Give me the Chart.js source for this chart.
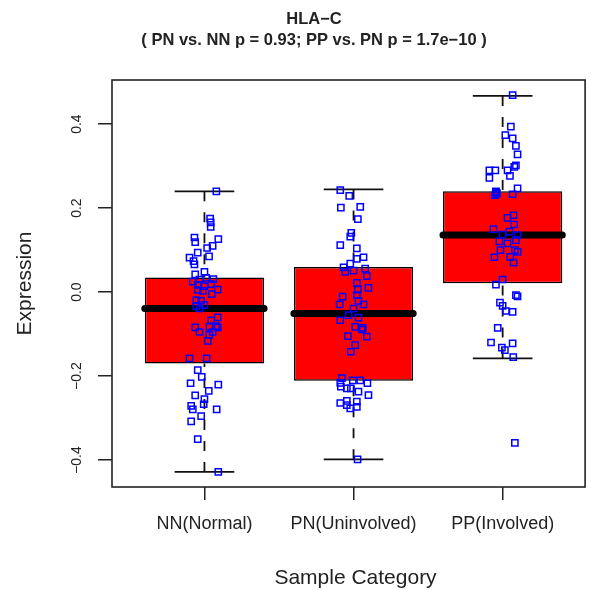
<!DOCTYPE html>
<html><head><meta charset="utf-8">
<script src="https://cdn.jsdelivr.net/npm/chart.js@4.4.1/dist/chart.umd.min.js"></script>
<style>html,body{margin:0;padding:0;background:#fff;}#wrap{width:591px;height:590px;position:relative;}</style>
</head><body><div id="wrap"><canvas id="c" width="591" height="590"></canvas></div>
<script>
const categories = ['NN(Normal)', 'PN(Uninvolved)', 'PP(Involved)'];
const titleLines = ['HLA\u2212C', '( PN vs. NN p = 0.93; PP vs. PN p = 1.7e\u221210 )'];
const xAxisTitle = 'Sample Category';
const yAxisTitle = 'Expression';
const yTickValues = [-0.4, -0.2, 0.0, 0.2, 0.4];
const yTickLabels = ['\u22120.4', '\u22120.2', '0.0', '0.2', '0.4'];

const whiskerLow  = [-0.428, -0.398, -0.158];
const q1          = [-0.170, -0.211, 0.021];
const median      = [-0.039, -0.051, 0.136];
const q3          = [0.035, 0.060, 0.240];
const whiskerHigh = [0.240, 0.2445, 0.467];

const nnValues = [0.240,0.175,0.166,0.155,0.130,0.119,0.126,0.110,0.105,0.094,
  0.085,0.082,0.074,0.066,0.042,0.048,0.025,0.030,0.034,0.031,
  0.017,0.014,0.019,0.006,0.005,0.003,-0.005,-0.019,-0.021,-0.031,
  -0.033,-0.039,-0.060,-0.067,-0.081,-0.083,-0.084,-0.095,-0.084,-0.102,
  -0.116,-0.095,-0.158,-0.158,-0.186,-0.202,-0.217,-0.220,-0.235,-0.246,
  -0.255,-0.267,-0.271,-0.279,-0.279,-0.295,-0.308,-0.350,-0.428];
const nnJitter = [0.08,0.038,0.042,0.042,-0.067,-0.062,0.093,0.055,0.018,-0.045,
  0.031,-0.10,-0.073,-0.067,-0.062,0.0,-0.078,-0.033,0.011,0.06,
  -0.045,0.0,0.045,0.089,-0.045,-0.011,0.049,-0.055,-0.022,0.0,
  -0.055,-0.033,0.089,0.045,0.078,0.033,-0.062,-0.033,0.089,0.033,
  0.022,0.055,-0.10,0.015,-0.045,-0.018,-0.093,0.093,0.029,-0.062,
  0.0,-0.005,-0.089,-0.078,0.082,-0.022,-0.089,-0.045,0.093];

const pnValues = [0.243,0.229,0.201,0.203,0.174,0.141,0.132,0.112,0.104,0.079,
  0.083,0.068,0.059,0.056,0.051,0.048,0.038,0.022,0.006,0.010,
  -0.011,-0.007,-0.029,-0.021,-0.029,-0.039,-0.055,-0.061,-0.067,-0.083,
  -0.085,-0.105,-0.089,-0.106,-0.126,-0.142,-0.205,-0.216,-0.210,-0.210,
  -0.217,-0.225,-0.229,-0.229,-0.237,-0.245,-0.264,-0.259,-0.261,-0.269,
  -0.273,-0.277,-0.398];
const pnJitter = [-0.089,-0.029,-0.085,0.045,0.029,-0.015,-0.022,-0.089,0.022,0.022,
  0.067,-0.022,-0.067,0.078,0.0,-0.055,0.089,0.022,0.029,0.10,
  -0.073,0.022,-0.093,0.033,0.067,0.0,-0.033,0.033,-0.089,0.011,
  0.062,-0.038,0.055,0.089,0.011,-0.018,-0.078,-0.089,-0.005,0.045,
  0.093,-0.085,-0.045,-0.018,0.033,0.10,-0.089,-0.045,0.022,-0.045,
  0.022,-0.022,0.027];

const ppValues = [0.469,0.394,0.374,0.366,0.348,0.328,0.302,0.298,0.290,0.290,
  0.272,0.290,0.277,0.247,0.240,0.231,0.236,0.233,0.183,0.177,
  0.161,0.150,0.144,0.137,0.136,0.121,0.124,0.116,0.100,0.100,
  0.096,0.083,0.084,0.070,0.030,0.018,-0.007,-0.010,-0.025,-0.033,
  -0.045,-0.047,-0.085,-0.120,-0.132,-0.138,-0.122,-0.155,-0.359,
  0.238,0.234];
const ppJitter = [0.067,0.055,0.018,0.067,0.089,0.10,0.089,0.078,-0.089,-0.049,
  -0.089,0.033,0.049,0.10,-0.045,-0.051,-0.04,0.067,0.073,0.033,
  0.078,-0.062,0.045,0.0,0.10,-0.022,0.089,0.033,-0.015,0.082,
  0.10,-0.055,0.051,0.073,0.0,-0.045,0.089,0.10,-0.018,0.0,
  0.022,0.067,-0.033,-0.078,-0.005,0.015,0.067,0.071,0.082,
  -0.045,-0.040];

const TEXT = '#222222';
const FONT = '"Liberation Sans", Arial, Helvetica, sans-serif';

const groups = [[nnValues, nnJitter], [pnValues, pnJitter], [ppValues, ppJitter]];
const pointData = [];
groups.forEach(([vals, jit], g) => vals.forEach((v, i) => pointData.push({x: g + 1 + jit[i], y: v})));

const boxData = categories.map((c, i) => ({x: i + 1, y: [q1[i], q3[i]]}));
const whiskerData = [], capData = [], medianData = [];
categories.forEach((c, i) => {
  const g = i + 1;
  whiskerData.push({x: g, y: whiskerHigh[i]}, {x: g, y: q3[i]}, {x: g, y: null});
  whiskerData.push({x: g, y: whiskerLow[i]}, {x: g, y: q1[i]}, {x: g, y: null});
  capData.push({x: g - 0.2, y: whiskerHigh[i]}, {x: g + 0.2, y: whiskerHigh[i]}, {x: g, y: null});
  capData.push({x: g - 0.2, y: whiskerLow[i]}, {x: g + 0.2, y: whiskerLow[i]}, {x: g, y: null});
  medianData.push({x: g - 0.4, y: median[i]}, {x: g + 0.4, y: median[i]}, {x: g, y: null});
});

function drawText(ctx, s, x, y, font, rot, baseline) {
  ctx.save();
  ctx.translate(x, y);
  if (rot) ctx.rotate(rot);
  ctx.font = font;
  ctx.fillStyle = TEXT;
  ctx.textAlign = 'center';
  ctx.textBaseline = baseline || 'alphabetic';
  ctx.fillText(s, 0, 0);
  ctx.restore();
}

const decor = {
  id: 'decor',
  beforeDraw(chart) {
    const ctx = chart.ctx;
    ctx.save(); ctx.fillStyle = '#fff'; ctx.fillRect(0, 0, chart.width, chart.height); ctx.restore();
  },
  afterDraw(chart) {
    const ctx = chart.ctx, a = chart.chartArea, ys = chart.scales.y;
    ctx.save();
    ctx.strokeStyle = '#222'; ctx.lineWidth = 1.6;
    ctx.strokeRect(a.left, a.top, a.right - a.left, a.bottom - a.top);
    ctx.restore();
    drawText(ctx, titleLines[0], 314, 23.5, 'bold 16.5px ' + FONT);
    drawText(ctx, titleLines[1], 314, 44.5, 'bold 16.5px ' + FONT);
    yTickValues.forEach((v, i) => drawText(ctx, yTickLabels[i], 81, ys.getPixelForValue(v), '14px ' + FONT, -Math.PI / 2));
    drawText(ctx, yAxisTitle, 30.5, (a.top + a.bottom) / 2, '21px ' + FONT, -Math.PI / 2);
    drawText(ctx, xAxisTitle, 355.5, 584, '21px ' + FONT);
  }
};

new Chart(document.getElementById('c'), {
  type: 'scatter',
  data: {
    datasets: [
      {type: 'scatter', data: pointData, order: 0, pointStyle: 'rect', pointRadius: 4.4, pointHoverRadius: 4.4,
       borderColor: '#0000FF', backgroundColor: 'rgba(0,0,0,0)', pointBorderWidth: 1.5, borderWidth: 1.5},
      {type: 'line', data: medianData, order: 1, borderColor: '#000', borderWidth: 7, borderCapStyle: 'round',
       pointRadius: 0, fill: false, spanGaps: false, tension: 0},
      {type: 'line', data: capData, order: 2, borderColor: '#111', borderWidth: 1.8, pointRadius: 0, fill: false, spanGaps: false},
      {type: 'line', data: whiskerData, order: 3, borderColor: '#111', borderWidth: 1.8, borderDash: [10, 11],
       pointRadius: 0, fill: false, spanGaps: false},
      {type: 'bar', data: boxData, order: 4, backgroundColor: '#FF0000', borderColor: '#000', borderWidth: 1.5,
       borderSkipped: false, barPercentage: 0.8, categoryPercentage: 1.0, grouped: false}
    ]
  },
  options: {
    responsive: false, animation: false, devicePixelRatio: 1,
    layout: {padding: {left: 0, right: 3, top: 80, bottom: 0}},
    plugins: {legend: {display: false}, tooltip: {enabled: false}, title: {display: false}},
    events: [],
    scales: {
      x: {
        type: 'linear', min: 0.38, max: 3.553, offset: false,
        afterBuildTicks: s => { s.ticks = categories.map((c, i) => ({value: i + 1})); },
        afterFit: s => { s.height = 103; },
        grid: {display: true, drawOnChartArea: false, drawTicks: true, tickLength: 13, color: '#222', lineWidth: 1.5, offset: false},
        border: {display: false},
        ticks: {autoSkip: false, maxRotation: 0, minRotation: 0, padding: 13, color: TEXT,
                font: {family: FONT, size: 18}, callback: (v, i) => categories[i]}
      },
      y: {
        type: 'linear', min: -0.464, max: 0.505,
        afterBuildTicks: s => { s.ticks = yTickValues.map(v => ({value: v})); },
        afterFit: s => { s.width = 112; },
        grid: {display: true, drawOnChartArea: false, drawTicks: true, tickLength: 14, color: '#222', lineWidth: 1.5},
        border: {display: false},
        ticks: {color: 'rgba(0,0,0,0)', font: {family: FONT, size: 14}, callback: () => ''}
      }
    }
  },
  plugins: [decor]
});
</script></body></html>
